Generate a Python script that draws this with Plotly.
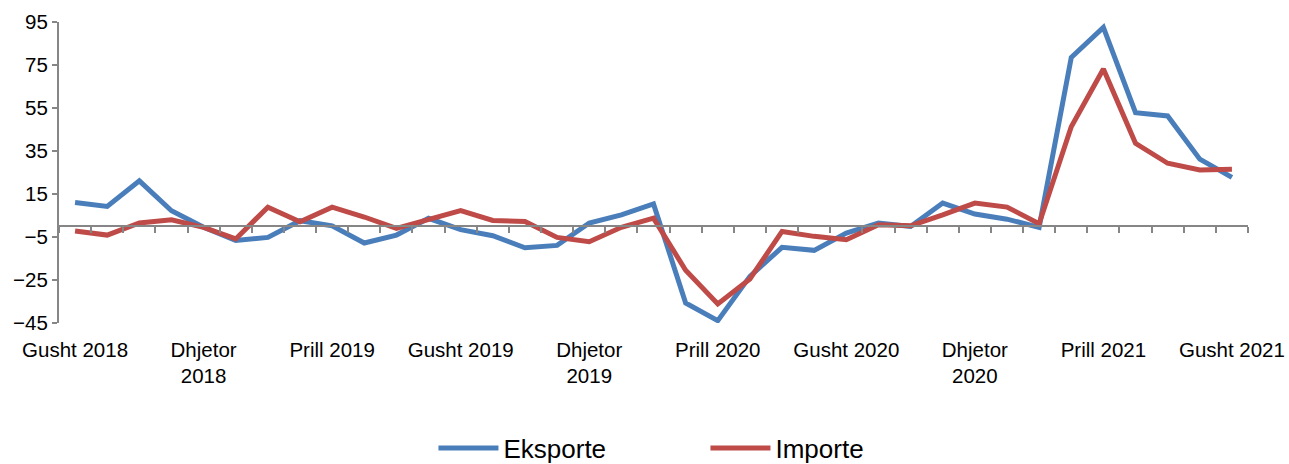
import plotly.graph_objects as go

months = ["Gusht 2018", "Shtator 2018", "Tetor 2018", "Nëntor 2018", "Dhjetor 2018", "Janar 2019",
          "Shkurt 2019", "Mars 2019", "Prill 2019", "Maj 2019", "Qershor 2019", "Korrik 2019",
          "Gusht 2019", "Shtator 2019", "Tetor 2019", "Nëntor 2019", "Dhjetor 2019", "Janar 2020",
          "Shkurt 2020", "Mars 2020", "Prill 2020", "Maj 2020", "Qershor 2020", "Korrik 2020",
          "Gusht 2020", "Shtator 2020", "Tetor 2020", "Nëntor 2020", "Dhjetor 2020", "Janar 2021",
          "Shkurt 2021", "Mars 2021", "Prill 2021", "Maj 2021", "Qershor 2021", "Korrik 2021",
          "Gusht 2021"]

eksporte = [11.0, 9.2, 21.1, 7.2, -0.5, -6.6, -5.2, 2.6, 0.2, -7.8, -4.1, 3.7,
            -1.6, -4.4, -10.0, -8.9, 1.5, 5.3, 10.4, -35.7, -43.9, -23.3, -9.8, -11.2,
            -3.2, 1.5, -0.1, 10.8, 5.7, 3.3, -0.5, 78.5, 92.5, 52.8, 51.3, 31.2, 22.7]

importe = [-2.2, -4.1, 1.5, 3.0, -0.5, -5.9, 8.9, 2.1, 8.9, 4.3, -1.0, 2.9,
           7.3, 2.7, 2.2, -5.2, -7.2, -0.5, 3.8, -20.5, -36.1, -24.5, -2.4, -4.7,
           -6.3, 0.7, 0.2, 5.3, 10.8, 8.9, 1.2, 46.3, 73.1, 38.6, 29.3, 26.2, 26.5]

label_idx = [0, 4, 8, 12, 16, 20, 24, 28, 32, 36]
label_text = ["Gusht 2018", "Dhjetor<br>2018", "Prill 2019", "Gusht 2019", "Dhjetor<br>2019",
              "Prill 2020", "Gusht 2020", "Dhjetor<br>2020", "Prill 2021", "Gusht 2021"]

y_ticks = [-45, -25, -5, 15, 35, 55, 75, 95]

x = list(range(len(months)))
FONT = "Liberation Sans, Arial, sans-serif"
GRAY = "#868686"

fig = go.Figure()
fig.add_trace(go.Scatter(x=x, y=eksporte, mode="lines", name="Eksporte",
                         line=dict(color="#4A7EBB", width=5), customdata=months,
                         hovertemplate="%{customdata}: %{y}<extra></extra>"))
fig.add_trace(go.Scatter(x=x, y=importe, mode="lines", name="Importe",
                         line=dict(color="#BE4B48", width=5), customdata=months,
                         hovertemplate="%{customdata}: %{y}<extra></extra>"))
# helper trace for the zero-crossing category axis
fig.add_trace(go.Scatter(x=[0], y=[None], xaxis="x2", yaxis="y", showlegend=False,
                         hoverinfo="skip", mode="lines"))

ymin, ymax = -45, 95
zero_pos = (0 - ymin) / (ymax - ymin)
n = len(months)

fig.update_layout(
    width=1289, height=464,
    margin=dict(l=59, r=41, t=22, b=141, autoexpand=False),
    paper_bgcolor="white", plot_bgcolor="white",
    font=dict(family=FONT, size=20, color="#000000"),
    showlegend=True,
    legend=dict(orientation="h", x=0.5437, xanchor="center", y=-0.416, yanchor="middle",
                font=dict(size=26, family=FONT), entrywidth=197, itemwidth=60),
    xaxis=dict(range=[-0.5, n - 0.5], tickmode="array", tickvals=label_idx,
               ticktext=label_text, showline=False, ticks="outside", ticklen=8,
               tickcolor="rgba(0,0,0,0)", showgrid=False, automargin=False,
               zeroline=False, tickangle=0, tickfont=dict(size=20.5)),
    xaxis2=dict(range=[-0.5, n - 0.5], overlaying="x", anchor="free", position=zero_pos,
                side="bottom", tickmode="array", tickvals=[i - 0.5 for i in range(n + 1)],
                showticklabels=False, ticks="outside", ticklen=6, tickcolor=GRAY,
                tickwidth=2, showline=True, linecolor=GRAY, linewidth=2, showgrid=False,
                zeroline=False, automargin=False),
    yaxis=dict(range=[ymin, ymax], tickmode="array", tickvals=y_ticks, showgrid=False,
               zeroline=False, showline=True, linecolor=GRAY, linewidth=2,
               ticks="outside", ticklen=5, tickcolor=GRAY, tickwidth=2, automargin=False,
               tickfont=dict(size=20.5), domain=[0, 1]),
)

fig.write_html("out.html", config={"displayModeBar": False},
               post_script="document.body.style.margin='0px';document.body.style.overflow='hidden';")
